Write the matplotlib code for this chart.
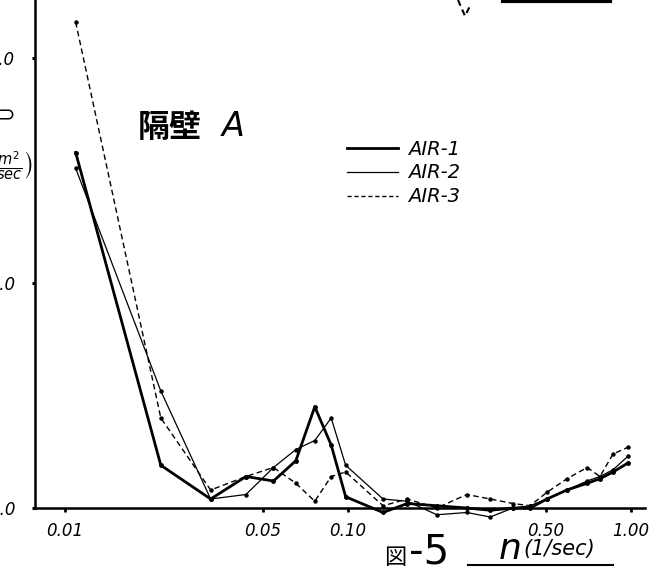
# %% Load libraries
import matplotlib
matplotlib.use('Agg')
import matplotlib.pyplot as plt
from matplotlib.lines import Line2D

# %% Data
freq = [0.0109, 0.0218, 0.0327, 0.0436, 0.0545, 0.0654, 0.0763, 0.0872,
        0.0981, 0.133, 0.162, 0.206, 0.263, 0.318, 0.383, 0.44, 0.505,
        0.594, 0.70, 0.777, 0.864, 0.976]
air1 = [15.8, 1.9, 0.4, 1.4, 1.2, 2.1, 4.5, 2.8, 0.5, -0.2, 0.2, 0.1,
        0.0, -0.1, 0.0, 0.0, 0.4, 0.8, 1.1, 1.3, 1.6, 2.0]
air2 = [15.1, 5.2, 0.4, 0.6, 1.8, 2.6, 3.0, 4.0, 1.9, 0.4, 0.3, -0.3,
        -0.2, -0.4, 0.0, 0.1, 0.4, 0.8, 1.2, 1.4, 1.7, 2.3]
air3 = [21.6, 4.0, 0.8, 1.4, 1.8, 1.1, 0.3, 1.4, 1.6, 0.1, 0.4, 0.0,
        0.6, 0.4, 0.2, 0.1, 0.7, 1.3, 1.8, 1.4, 2.4, 2.7]
series_labels = ['AIR-1', 'AIR-2', 'AIR-3']

x_ticks = [0.01, 0.05, 0.10, 0.50, 1.00]
x_ticklabels = ['0.01', '0.05', '0.10', '0.50', '1.00']
y_ticks = [0, 10, 20]
y_ticklabels = ['0.0', '10.0', '20.0']

# %% Setup
W, H = 660, 568
plt.rcParams['mathtext.fontset'] = 'dejavusans'


def px(x, y):
    # pixel position (from top-left) -> figure fraction
    return x / W, 1 - y / H


fig = plt.figure(figsize=(W / 100, H / 100), dpi=100)
ax = fig.add_axes([35 / W, 60 / H, 610 / W, 508 / H])

# --+ lines
ax.plot(freq, air1, color='black', lw=2.0, marker='o', ms=2.5,
        clip_on=False)
ax.plot(freq, air2, color='black', lw=0.9, marker='o', ms=2.2,
        clip_on=False)
ax.plot(freq, air3, color='black', lw=1.0, ls=(0, (4, 2.5)), marker='o',
        ms=2.2, clip_on=False)

# --+ axes
ax.set_xscale('log')
ax.set_xlim(0.00783, 1.121)
ax.set_ylim(0, 22.58)
ax.set_xticks(x_ticks)
ax.set_xticklabels(x_ticklabels, fontsize=12, fontstyle='italic')
ax.minorticks_off()
ax.set_yticks(y_ticks)
ax.set_yticklabels(y_ticklabels, fontsize=12, fontstyle='italic')
ax.tick_params(axis='x', length=3, width=2, pad=7)
ax.tick_params(axis='y', length=2, width=2.2, pad=12)
for side in ['top', 'right']:
    ax.spines[side].set_visible(False)
for side in ['left', 'bottom']:
    ax.spines[side].set_linewidth(1.8)

# --+ legend
handles = [Line2D([], [], color='black', lw=2.0),
           Line2D([], [], color='black', lw=0.9),
           Line2D([], [], color='black', lw=1.0, ls=(0, (3, 2)))]
ax.legend(handles, series_labels, loc='center left',
          bbox_to_anchor=px(347, 173), bbox_transform=fig.transFigure,
          frameon=False, borderpad=0, borderaxespad=0, handlelength=2.6,
          handletextpad=0.55, labelspacing=0.25,
          prop={'size': 14, 'style': 'italic'})

# --+ annotations
fig.text(*px(138, 137), '隔壁', fontsize=23, fontweight='bold',
         family=['Noto Sans CJK JP', 'DejaVu Sans'], va='baseline')
fig.text(*px(222, 136), 'A', fontsize=24, fontstyle='italic',
         va='baseline')

# y label, mostly cut off at the left edge
fig.text(*px(15, 115), '⊃', fontsize=15, ha='right', va='center')
fig.text(*px(33, 166), r'$\left(\frac{m^2}{sec}\right)$', fontsize=15,
         ha='right', va='center')

# figure caption and x label
fig.text(*px(384, 564), '図', fontsize=16,
         family=['Noto Sans CJK JP', 'DejaVu Sans'], va='baseline')
fig.text(*px(409, 564), '-5', fontsize=29, va='baseline')
fig.text(*px(499, 559), 'n', fontsize=26, fontstyle='italic',
         va='baseline')
fig.text(*px(523, 555), '(1/sec)', fontsize=15, fontstyle='italic',
         va='baseline')
fig.add_artist(Line2D([468 / W, 613 / W], [1 - 565 / H, 1 - 565 / H],
                      color='black', lw=1.5))

# bits of the upper figure cut off at the top
fig.add_artist(Line2D([458 / W, 465 / W, 471 / W],
                      [1.0, 1 - 16 / H, 1 - 4 / H],
                      color='black', lw=1.5, ls=(0, (3, 2))))
fig.add_artist(Line2D([503 / W, 610 / W], [1 - 1 / H, 1 - 1 / H],
                      color='black', lw=3))

# save
fig.savefig('out.png', dpi=100)
